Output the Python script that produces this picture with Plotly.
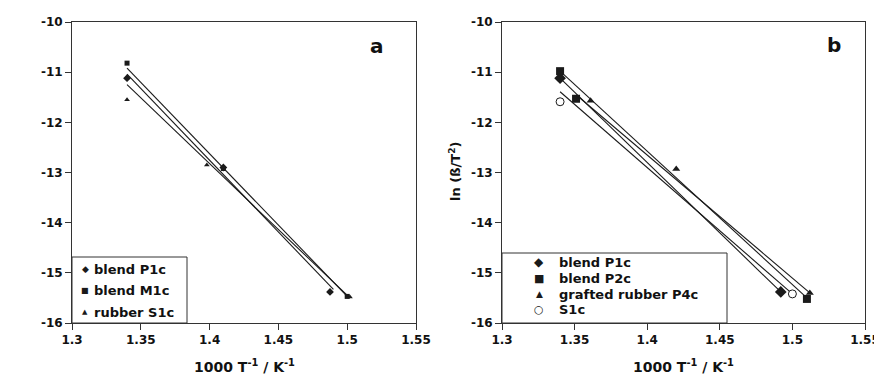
import plotly.graph_objects as go

# ---------------- data ----------------
x_tick_vals = [1.3, 1.35, 1.4, 1.45, 1.5, 1.55]
x_tick_labels = ["1.3", "1.35", "1.4", "1.45", "1.5", "1.55"]
y_tick_vals = [-16, -15, -14, -13, -12, -11, -10]
y_tick_labels = ["-16", "-15", "-14", "-13", "-12", "-11", "-10"]

# panel a
a_names = ["blend P1c", "blend M1c", "rubber S1c"]
a_p1c_x = [1.34, 1.41, 1.4875]
a_p1c_y = [-11.12, -12.90, -15.38]
a_m1c_x = [1.34, 1.41, 1.50]
a_m1c_y = [-10.82, -12.92, -15.47]
a_s1c_x = [1.34, 1.398, 1.502]
a_s1c_y = [-11.55, -12.85, -15.48]
a_p1c_fit_x = [1.34, 1.49]
a_p1c_fit_y = [-11.04, -15.33]
a_m1c_fit_x = [1.34, 1.50]
a_m1c_fit_y = [-10.92, -15.47]
a_s1c_fit_x = [1.34, 1.502]
a_s1c_fit_y = [-11.25, -15.50]

# panel b
b_names = ["blend P1c", "blend P2c", "grafted rubber P4c", "S1c"]
b_p1c_x = [1.34, 1.492]
b_p1c_y = [-11.12, -15.38]
b_p2c_x = [1.34, 1.351, 1.51]
b_p2c_y = [-10.98, -11.53, -15.52]
b_p4c_x = [1.361, 1.42, 1.512]
b_p4c_y = [-11.57, -12.93, -15.40]
b_s1c_x = [1.34, 1.50]
b_s1c_y = [-11.59, -15.42]
b_p1c_fit_x = [1.34, 1.492]
b_p1c_fit_y = [-11.12, -15.38]
b_p2c_fit_x = [1.34, 1.51]
b_p2c_fit_y = [-10.98, -15.50]
b_p4c_fit_x = [1.351, 1.512]
b_p4c_fit_y = [-11.45, -15.40]
b_s1c_fit_x = [1.34, 1.50]
b_s1c_fit_y = [-11.39, -15.42]

FONT = "DejaVu Sans, Arial, sans-serif"
INK = "#1a1a1a"
TXT = "#111111"
OFF = 8                     # page body margin of the browser
W, H = 882 - OFF, 376 - OFF
B_RIGHT = 865

fig = go.Figure()


def add_series(name, xs, ys, fx, fy, symbol, size, xa, ya, open_marker=False):
    fig.add_trace(go.Scatter(
        x=fx, y=fy, mode="lines", line=dict(color=INK, width=1.1),
        xaxis=xa, yaxis=ya, showlegend=False, hoverinfo="skip"))
    marker = dict(symbol=symbol, size=size, color=INK)
    if open_marker:
        marker = dict(symbol=symbol, size=size, color="white",
                      line=dict(color=INK, width=1))
    fig.add_trace(go.Scatter(
        x=xs, y=ys, mode="markers", name=name, marker=marker,
        xaxis=xa, yaxis=ya, showlegend=False))


add_series(a_names[0], a_p1c_x, a_p1c_y, a_p1c_fit_x, a_p1c_fit_y, "diamond", 6, "x", "y")
add_series(a_names[1], a_m1c_x, a_m1c_y, a_m1c_fit_x, a_m1c_fit_y, "square", 5, "x", "y")
add_series(a_names[2], a_s1c_x, a_s1c_y, a_s1c_fit_x, a_s1c_fit_y, "triangle-up", 5, "x", "y")

add_series(b_names[0], b_p1c_x, b_p1c_y, b_p1c_fit_x, b_p1c_fit_y, "diamond", 9, "x2", "y2")
add_series(b_names[1], b_p2c_x, b_p2c_y, b_p2c_fit_x, b_p2c_fit_y, "square", 8, "x2", "y2")
add_series(b_names[2], b_p4c_x, b_p4c_y, b_p4c_fit_x, b_p4c_fit_y, "triangle-up", 7, "x2", "y2")
add_series(b_names[3], b_s1c_x, b_s1c_y, b_s1c_fit_x, b_s1c_fit_y, "circle", 8, "x2", "y2", open_marker=True)


def px(x):
    return (x - OFF) / W


def py(y):
    return (H - (y - OFF)) / H


axis_common = dict(
    showgrid=False, zeroline=False, showline=True, linecolor="#333333", linewidth=1,
    mirror=True, ticks="outside", ticklen=6, tickcolor="#333333", automargin=False,
    ticklabeloverflow="allow",
    tickfont=dict(family=FONT, size=12, color=TXT, weight="bold"),
)
xa = dict(axis_common, range=[1.3, 1.55], tickvals=x_tick_vals,
          ticktext=["<b>%s</b>" % t for t in x_tick_labels])
ya = dict(axis_common, range=[-16, -10], tickvals=y_tick_vals,
          ticktext=["<b>%s</b>" % t for t in y_tick_labels])

shapes = []
annotations = []

# legend boxes (drawn above plot)
for (x0, x1, y0, y1) in [(72, 187, 257, 323), (502, 727, 253, 323)]:
    shapes.append(dict(type="rect", xref="paper", yref="paper",
                       x0=px(x0), x1=px(x1), y0=py(y1), y1=py(y0),
                       fillcolor="white", line=dict(color="#333333", width=1), layer="above"))

leg_a_rows = [269, 290, 312]
leg_a_syms = [("\u25c6", 9), ("\u25a0", 8), ("\u25b2", 7)]
for name, yy, (sym, fs) in zip(a_names, leg_a_rows, leg_a_syms):
    annotations.append(dict(text=sym, xref="paper", yref="paper", x=px(85), y=py(yy),
                            xanchor="center", yanchor="middle", showarrow=False,
                            font=dict(family=FONT, size=fs, color=INK)))
    annotations.append(dict(text="<b>%s</b>" % name, xref="paper", yref="paper", x=px(92), y=py(yy),
                            xanchor="left", yanchor="middle", showarrow=False,
                            font=dict(family=FONT, size=13, color=TXT)))

leg_b_rows = [262, 278, 294, 309]
leg_b_syms = [("\u25c6", 12), ("\u25a0", 11), ("\u25b2", 9), ("\u25cb", 11)]
for name, yy, (sym, fs) in zip(b_names, leg_b_rows, leg_b_syms):
    annotations.append(dict(text=sym, xref="paper", yref="paper", x=px(539), y=py(yy),
                            xanchor="center", yanchor="middle", showarrow=False,
                            font=dict(family=FONT, size=fs, color=INK)))
    annotations.append(dict(text="<b>%s</b>" % name, xref="paper", yref="paper", x=px(557), y=py(yy),
                            xanchor="left", yanchor="middle", showarrow=False,
                            font=dict(family=FONT, size=13, color=TXT)))

# axis titles
for cx in [(72 + 416) / 2, (502 + B_RIGHT) / 2]:
    annotations.append(dict(text="<b>1000 T<sup>-1</sup> / K<sup>-1</sup></b>", xref="paper", yref="paper",
                            x=px(cx), y=py(366), xanchor="center", yanchor="middle", showarrow=False,
                            font=dict(family=FONT, size=14, color=TXT)))
annotations.append(dict(text="<b>ln (ß/T<sup>2</sup>)</b>", xref="paper", yref="paper",
                        x=px(455), y=py(171), xanchor="center", yanchor="middle", showarrow=False,
                        textangle=-90, font=dict(family=FONT, size=13, color=TXT)))

# panel letters
annotations.append(dict(text="<b>a</b>", xref="paper", yref="paper", x=px(377), y=py(46),
                        xanchor="center", yanchor="middle", showarrow=False,
                        font=dict(family=FONT, size=20, color=TXT)))
annotations.append(dict(text="<b>b</b>", xref="paper", yref="paper", x=px(834), y=py(45),
                        xanchor="center", yanchor="middle", showarrow=False,
                        font=dict(family=FONT, size=20, color=TXT)))

fig.update_layout(
    width=W, height=H, margin=dict(l=0, r=0, t=0, b=0),
    paper_bgcolor="white", plot_bgcolor="white",
    font=dict(family=FONT, color=TXT),
    showlegend=False,
    xaxis=dict(xa, domain=[px(72), px(416)], anchor="y"),
    yaxis=dict(ya, domain=[py(323), py(22)], anchor="x"),
    xaxis2=dict(xa, domain=[px(502), px(B_RIGHT)], anchor="y2"),
    yaxis2=dict(ya, domain=[py(323), py(22)], anchor="x2"),
    shapes=shapes,
    annotations=annotations,
)

fig.write_html("out.html")
